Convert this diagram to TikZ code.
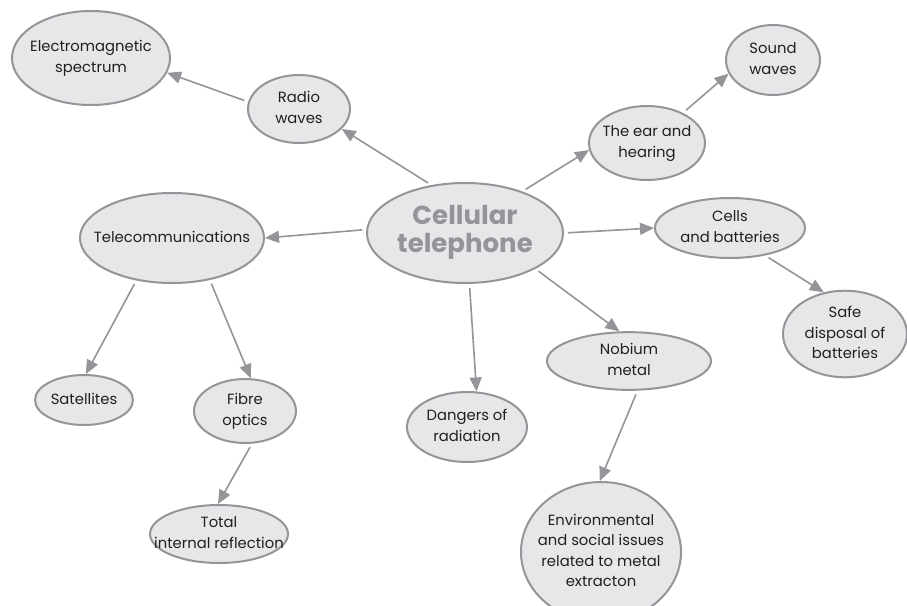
\documentclass[tikz,border=0pt]{standalone}
\usepackage{fontspec}
\setmainfont{Poppins}
\usetikzlibrary{shapes,arrows.meta}

\definecolor{bord}{HTML}{939598}
\definecolor{fond}{HTML}{E6E7E8}
\definecolor{encre}{HTML}{231F20}
\newcommand{\bulletxt}[1]{\makebox[0pt]{\begin{tabular}{@{}c@{}}#1\end{tabular}}}

\begin{document}
\begin{tikzpicture}[x=0.5pt,y=-0.5pt]
	\tikzstyle{bulle}=[ellipse,draw=bord,line width=1pt,fill=fond,inner sep=0pt,
	text=encre,font=\fontsize{7.4}{10.2}\selectfont]
	\tikzstyle{centre}=[bulle,text=bord,font=\fontsize{13}{14}\selectfont\bfseries]

	\useasboundingbox (0,0) rectangle (907,606);

	\node[centre,minimum width=98pt,minimum height=50pt] (cell) at (465,233)
	{\bulletxt{Cellular\\telephone}};
	\node[bulle,minimum width=79pt,minimum height=47pt] (em) at (91,58)
	{\bulletxt{Electromagnetic\\spectrum}};
	\node[bulle,minimum width=51pt,minimum height=34pt] (radio) at (299,109)
	{\bulletxt{Radio\\waves}};
	\node[bulle,minimum width=58pt,minimum height=37pt] (ear) at (647,143)
	{\bulletxt{The ear and\\hearing}};
	\node[bulle,minimum width=47pt,minimum height=35pt] (sound) at (773,60)
	{\bulletxt{Sound\\waves}};
	\node[bulle,minimum width=92pt,minimum height=45pt] (telecom) at (172,238)
	{\bulletxt{Telecommunications}};
	\node[bulle,minimum width=75pt,minimum height=30pt] (cells) at (730,228)
	{\bulletxt{Cells\\and batteries}};
	\node[bulle,minimum width=62pt,minimum height=39pt] (safe) at (845,334)
	{\bulletxt{Safe\\disposal of\\batteries}};
	\node[bulle,minimum width=82pt,minimum height=24pt] (nobium) at (629,361)
	{\bulletxt{Nobium\\metal}};
	\node[bulle,minimum width=80pt,minimum height=70pt] (env) at (601,552)
	{\bulletxt{Environmental\\and social issues\\related to metal\\extracton}};
	\node[bulle,minimum width=60pt,minimum height=35pt] (dangers) at (467,427)
	{\bulletxt{Dangers of\\radiation}};
	\node[bulle,minimum width=49pt,minimum height=25pt] (sat) at (84,400)
	{\bulletxt{Satellites}};
	\node[bulle,minimum width=51pt,minimum height=32pt] (fibre) at (245,411)
	{\bulletxt{Fibre\\optics}};
	\node[bulle,minimum width=69pt,minimum height=29pt] (total) at (219,534)
	{\bulletxt{Total\\internal reflection}};

	\tikzstyle{suite}=[-{Triangle[length=7pt,width=6pt]},draw=bord,line width=0.8pt,
	shorten <=2pt]

	\draw[suite] (radio.172) -- (em.-11);
	\draw[suite] (cell.125) -- (radio.-25);
	\draw[suite] (cell.36) -- (ear.-173);
	\draw[suite] (ear.40) -- (sound.-163);
	\draw[suite] (cell.178) -- (telecom.0);
	\draw[suite] (cell.0) -- (cells.180);
	\draw[suite] (cells.-38) -- (safe.117);
	\draw[suite] (cell.-27) -- (nobium.108);
	\draw[suite] (nobium.-74) -- (env.91);
	\draw[suite] (cell.-85) -- (dangers.75);
	\draw[suite] (telecom.-130) -- (sat.86);
	\draw[suite] (telecom.-48) -- (fibre.80);
	\draw[suite] (fibre.-78) -- (total.92);
\end{tikzpicture}
\end{document}
